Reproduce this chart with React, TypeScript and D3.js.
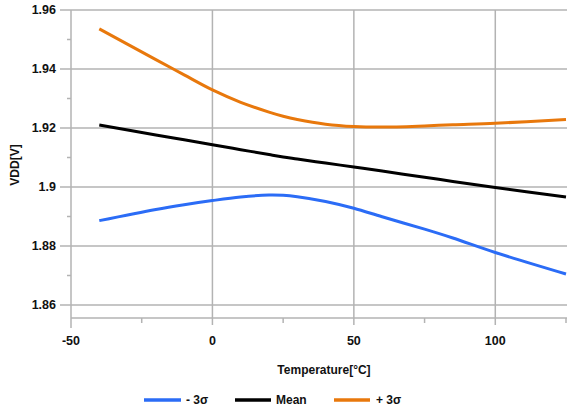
import React from "react";
import * as d3 from "d3";

const temps = [-40, -20, -10, 0, 10, 20, 25, 30, 40, 50, 60, 75, 85, 100, 125];
const minus3 = [1.8886, 1.8924, 1.894, 1.8954, 1.8966, 1.8973, 1.8972, 1.8967, 1.8951, 1.8928, 1.8899, 1.8857, 1.8827, 1.8778, 1.8705];
const mean = [1.921, 1.91765, 1.916, 1.9143, 1.91265, 1.911, 1.9102, 1.9095, 1.9081, 1.9068, 1.9054, 1.9033, 1.9019, 1.8998, 1.8966];
const plus3 = [1.9536, 1.9432, 1.938, 1.9329, 1.9287, 1.9254, 1.924, 1.9229, 1.9213, 1.9205, 1.9203, 1.9207, 1.9211, 1.9216, 1.9229];

const xMajor = [-50, 0, 50, 100];
const xMinor = [-25, 25, 75, 125];
const yMajor = [1.86, 1.88, 1.9, 1.92, 1.94, 1.96];
const yMinor = [1.87, 1.89, 1.91, 1.93, 1.95];
const yLabels = ["1.86", "1.88", "1.9", "1.92", "1.94", "1.96"];

const seriesNames = ["- 3σ", "Mean", "+ 3σ"];
const seriesColors = ["#2b6cf6", "#000000", "#e8780c"];

export default function App() {
  const W = 575, H = 413;
  const left = 71, right = 566, top = 10, bottom = 318;
  const x = d3.scaleLinear().domain([-50, 125]).range([left, right]);
  const y = d3.scaleLinear().domain([1.86, 1.96]).range([305, top]);
  const grid = "#b3b3b3";
  const font = "Arial, 'Liberation Sans', sans-serif";
  const series = [minus3, mean, plus3];
  const line = (vals: number[]) =>
    d3.line<number>().x((_, i) => x(temps[i])).y((v) => y(v)).curve(d3.curveCatmullRom.alpha(0.5))(vals) || "";

  const legendItems = [
    { x1: 144, x2: 181, tx: 186 },
    { x1: 235, x2: 271, tx: 276 },
    { x1: 334, x2: 370, tx: 376 },
  ];

  return (
    <svg width={W} height={H} style={{ position: "absolute", left: 0, top: 0, background: "#fff" }}>
      {yMajor.map((v) => (
        <line key={"hg" + v} x1={60} x2={right + 1} y1={y(v)} y2={y(v)} stroke={grid} strokeWidth={1.5} />
      ))}
      {yMinor.map((v) => (
        <line key={"hm" + v} x1={67} x2={left} y1={y(v)} y2={y(v)} stroke={grid} strokeWidth={1.5} />
      ))}
      <line x1={left} x2={right + 1} y1={bottom} y2={bottom} stroke={grid} strokeWidth={1.5} />
      {xMajor.map((v) => (
        <line key={"vg" + v} x1={x(v)} x2={x(v)} y1={top} y2={v === -50 ? 328 : 325} stroke={grid} strokeWidth={1.5} />
      ))}
      {xMinor.map((v) => (
        <line key={"vm" + v} x1={x(v)} x2={x(v)} y1={bottom} y2={323} stroke={grid} strokeWidth={1.5} />
      ))}
      {series.map((s, i) => (
        <path key={"s" + i} d={line(s)} fill="none" stroke={seriesColors[i]} strokeWidth={3} />
      ))}
      {yMajor.map((v, i) => (
        <text key={"yl" + v} x={56} y={y(v)} dy="0.35em" textAnchor="end" fontFamily={font} fontWeight="bold" fontSize={12.5} fill="#111">
          {yLabels[i]}
        </text>
      ))}
      {xMajor.map((v) => (
        <text key={"xl" + v} x={x(v)} y={341} dy="0.35em" textAnchor="middle" fontFamily={font} fontWeight="bold" fontSize={12.5} fill="#111">
          {v}
        </text>
      ))}
      <text x={324} y={370} dy="0.35em" textAnchor="middle" fontFamily={font} fontWeight="bold" fontSize={12} fill="#111">
        Temperature[°C]
      </text>
      <text transform="translate(15,165) rotate(-90)" dy="0.35em" textAnchor="middle" fontFamily={font} fontWeight="bold" fontSize={12} fill="#111">
        VDD[V]
      </text>
      {legendItems.map((it, i) => (
        <g key={"lg" + i}>
          <line x1={it.x1} x2={it.x2} y1={400} y2={400} stroke={seriesColors[i]} strokeWidth={3.5} />
          <text x={it.tx} y={400} dy="0.35em" fontFamily={font} fontWeight="bold" fontSize={12} fill="#111">
            {seriesNames[i]}
          </text>
        </g>
      ))}
    </svg>
  );
}
